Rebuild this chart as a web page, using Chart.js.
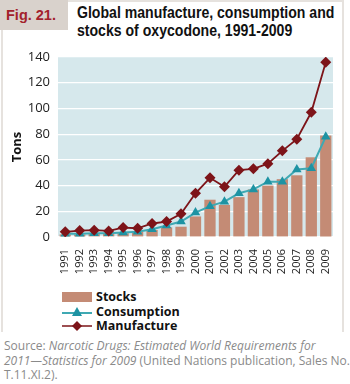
<!DOCTYPE html>
<html>
<head>
<meta charset="utf-8">
<script src="https://cdn.jsdelivr.net/npm/chart.js@4/dist/chart.umd.min.js"></script>
<style>
  body { margin: 0; width: 350px; height: 384px; background: #fff; position: relative; overflow: hidden; font-family: "Liberation Sans", Arial, sans-serif; }
  .frame { position: absolute; left: 1px; top: 0; width: 343px; height: 332px; border: 2px solid #e6e2de; border-bottom: none; box-sizing: border-box; }
  .figbox { position: absolute; left: 0; top: 0; width: 68px; height: 30px; background: #d9d2cc; }
  .figbox span { position: absolute; left: 6px; top: 7px; font-weight: bold; font-size: 14.5px; color: #a3222c; white-space: nowrap; }
  .title { position: absolute; left: 77px; top: 4px; font-weight: bold; font-size: 16px; line-height: 18px; color: #111; white-space: nowrap; transform: scaleX(0.88); transform-origin: left top; }
  .chartbox { position: absolute; left: 0; top: 40px; width: 350px; height: 240px; }
  .legend { position: absolute; left: 62px; top: 290px; font-family: "Open Sans", sans-serif; font-weight: bold; font-size: 12.5px; color: #111; }
  .legend div { height: 14.5px; line-height: 14.5px; display: flex; align-items: center; }
  .legend svg { margin-right: 4px; }
  .source { position: absolute; left: 4px; top: 339px; font-family: "Open Sans", sans-serif; font-size: 12px; line-height: 14.5px; color: #8a8a8a; white-space: nowrap; }
</style>
</head>
<body>
<div class="frame"></div>
<div class="figbox"><span>Fig. 21.</span></div>
<div class="title">Global manufacture, consumption and<br>stocks of oxycodone, 1991-2009</div>
<div class="chartbox"><canvas id="myChart"></canvas></div>
<div class="legend">
  <div><svg width="30" height="10"><rect x="0" y="0" width="30" height="10" fill="#c48b75"/></svg>Stocks</div>
  <div><svg width="30" height="12"><line x1="0" y1="7" x2="30" y2="7" stroke="#3fa9b3" stroke-width="2"/><polygon points="15,1 20,10 10,10" fill="#1e93a3"/></svg>Consumption</div>
  <div><svg width="30" height="12"><line x1="0" y1="6" x2="30" y2="6" stroke="#7d1419" stroke-width="1.5"/><polygon points="15,1 20,6 15,11 10,6" fill="#7d1419"/></svg>Manufacture</div>
</div>
<div class="source">Source: <i>Narcotic Drugs: Estimated World Requirements for</i><br><i>2011—Statistics for 2009</i> (United Nations publication, Sales No.<br>T.11.XI.2).</div>

<script>
// data (tons)
const years = ['1991', '1992', '1993', '1994', '1995', '1996', '1997', '1998', '1999', '2000',
    '2001', '2002', '2003', '2004', '2005', '2006', '2007', '2008', '2009'];
const stocks = [2, 2, 2.5, 2.5, 3, 4, 5.5, 7.5, 8, 16, 29, 25, 31, 37, 40, 45, 48, 62, 79];
const consumption = [2.5, 2.5, 3, 3, 3.5, 4, 6, 9, 12, 19, 24, 27.5, 34, 37, 43, 43, 52.5, 53.5, 78];
const manufacture = [4, 5, 5.3, 4.7, 7.3, 6.8, 10.5, 12, 18, 34, 46, 39, 52, 53, 57, 67, 76, 97, 136];
const yTicks = [0, 20, 40, 60, 80, 100, 120, 140];

// light blue plot background
const plotBg = {
    id: 'plotBg',
    beforeDraw(chart) {
        const a = chart.chartArea;
        const ctx = chart.ctx;
        ctx.save();
        ctx.fillStyle = '#d6e8ec';
        ctx.fillRect(a.left, a.top, a.right - a.left, a.bottom - a.top);
        ctx.restore();
    }
};

new Chart('myChart', {
    type: 'bar',
    data: {
        labels: years,
        datasets: [{
            label: 'Stocks',
            data: stocks,
            backgroundColor: '#c48b75',
            barPercentage: 0.78,
            categoryPercentage: 1,
            order: 3
        }, {
            type: 'line',
            label: 'Consumption',
            data: consumption,
            borderColor: '#3fa9b3',
            borderWidth: 2,
            pointStyle: 'triangle',
            pointRadius: 5.5,
            pointBackgroundColor: '#1e93a3',
            pointBorderColor: '#1e93a3',
            pointBorderWidth: 0,
            tension: 0,
            order: 2
        }, {
            type: 'line',
            label: 'Manufacture',
            data: manufacture,
            borderColor: '#7d1419',
            borderWidth: 1.8,
            pointStyle: 'rectRot',
            pointRadius: 5.5,
            pointBackgroundColor: '#7d1419',
            pointBorderColor: '#7d1419',
            pointBorderWidth: 0,
            tension: 0,
            order: 1
        }]
    },
    options: {
        responsive: true,
        maintainAspectRatio: false,
        animation: false,
        layout: { padding: { top: 17, right: 17, bottom: 0, left: 0 } },
        plugins: { legend: { display: false }, tooltip: { enabled: false } },
        scales: {
            x: {
                grid: { display: false },
                border: { display: false },
                ticks: {
                    minRotation: 90, maxRotation: 90, autoSkip: false,
                    padding: 4,
                    color: '#222',
                    font: { family: 'Open Sans', size: 11 }
                },
                afterFit(scale) { scale.height = 43; }
            },
            y: {
                min: 0, max: 140,
                afterBuildTicks(scale) { scale.ticks = yTicks.map(v => ({ value: v })); },
                grid: { color: '#ffffff', lineWidth: 1.2, drawTicks: false },
                border: { display: false },
                ticks: {
                    padding: 8,
                    color: '#222',
                    font: { family: 'Open Sans', size: 13 }
                },
                title: {
                    display: true,
                    text: 'Tons',
                    color: '#111',
                    padding: { top: 9, bottom: 0 },
                    font: { family: 'Open Sans', size: 13, weight: 'bold' }
                },
                afterFit(scale) { scale.width = 58; }
            }
        }
    },
    plugins: [plotBg]
});
</script>
</body>
</html>
